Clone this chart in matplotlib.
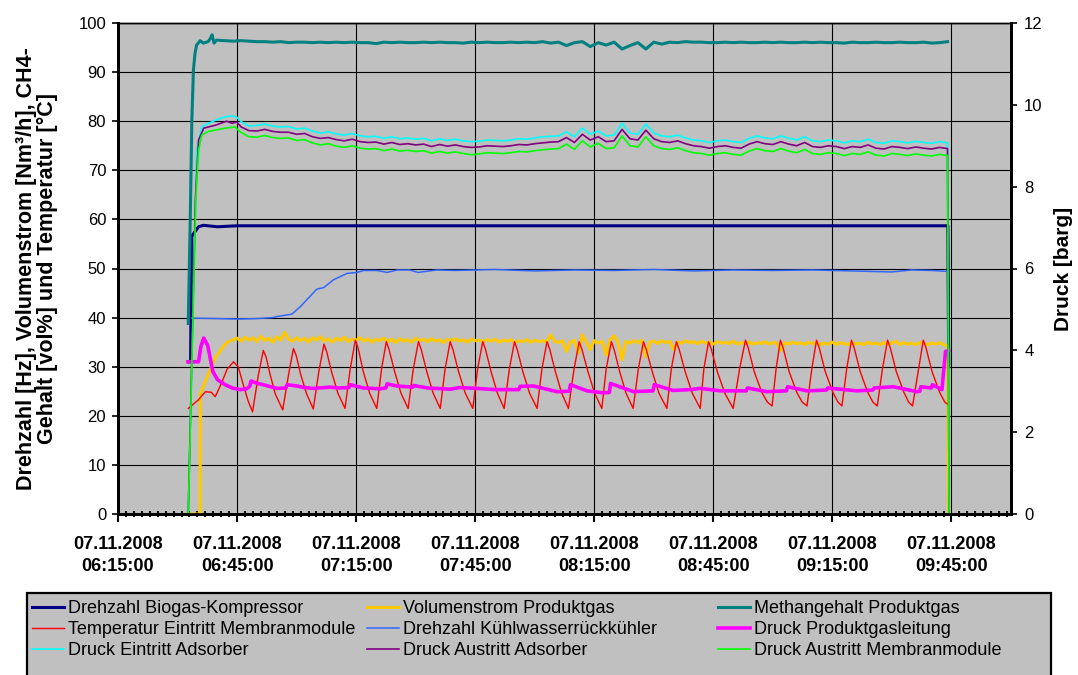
import numpy as np
import pandas as pd
import matplotlib
matplotlib.use("Agg")
import matplotlib.pyplot as plt
import matplotlib.dates as mdates
from matplotlib.lines import Line2D
from matplotlib.patches import Rectangle

plt.rcParams['font.family'] = ['Liberation Sans', 'DejaVu Sans']

# Zeitangaben in Minuten nach 06:00 Uhr am 07.11.2008
START = pd.Timestamp("2008-11-07 06:00")

# Drehzahl Biogas-Kompressor [Hz]
t_kompressor = [32.7, 33.3, 33.5, 34.4, 35.3, 36.5, 40.0, 45.0, 60.0, 90.0, 120.0, 150.0, 180.0, 210.0, 224.1, 224.3]
v_kompressor = [31.0, 31.0, 56.5, 57.5, 58.5, 58.8, 58.5, 58.7, 58.7, 58.7, 58.7, 58.7, 58.7, 58.7, 58.7, 30.0]

# Volumenstrom Produktgas [Nm3/h]: Anfahren, dann Messwerte im Minutentakt ab 06:45
t_vol_start = [32.7, 35.7, 35.75, 37.5, 39.5, 41.6, 42.8, 44.0]
v_vol_start = [0.0, 0.0, 24.5, 28.0, 31.8, 34.2, 35.1, 35.5]
t_vol_takt = np.arange(45, 225, 1)
v_vol_takt = [
    35.8, 35.2, 36.0, 35.4, 35.9, 35.1, 36.2, 35.3, 35.8, 35.0, 36.1, 35.4, 37.0, 35.6, 35.2, 35.9,
    35.3, 35.8, 35.0, 35.9, 35.4, 36.1, 35.2, 35.7, 35.0, 35.8, 35.3, 36.0, 35.1, 35.6, 35.4, 35.9, 35.2, 35.7, 35.0, 35.6,
    35.3, 35.8, 35.1, 35.6, 34.9, 35.7, 35.2, 35.5, 35.0, 35.8, 35.3, 35.6, 35.1, 35.7, 35.2, 35.5, 34.9, 35.6, 35.3, 35.7,
    35.2, 35.5, 35.0, 35.6, 35.3, 35.4, 35.1, 35.5, 35.2, 35.6, 35.0, 35.4, 35.2, 35.5, 34.9, 35.3, 35.1, 35.5, 35.0, 35.4,
    35.1, 35.3, 35.0, 36.5, 35.2, 34.9, 35.3, 33.1, 35.0, 35.4, 32.8, 36.5, 35.0, 33.5, 35.3, 34.8, 35.2, 32.4, 35.4, 36.3,
    35.0, 31.4, 35.2, 34.8, 35.3, 34.9, 35.4, 32.0, 35.0, 35.2, 34.7, 35.3, 34.9, 35.2, 33.5, 35.0, 34.8, 35.3, 34.9, 35.1,
    34.7, 35.2, 34.8, 35.0, 34.6, 35.1, 34.8, 35.0, 34.7, 35.2, 34.6, 34.9, 34.7, 35.0, 34.6, 34.9, 34.7, 35.1, 34.6, 34.9,
    34.8, 33.3, 34.9, 34.6, 35.0, 34.7, 34.9, 34.5, 35.0, 34.7, 34.9, 34.5, 34.8, 34.6, 35.0, 34.5, 34.9, 34.7, 34.5, 34.9,
    34.6, 34.8, 34.5, 35.0, 34.6, 34.8, 34.5, 34.9, 34.6, 34.8, 35.2, 34.5, 34.9, 34.6, 34.8, 34.5, 34.9, 34.7, 34.5, 34.8,
    34.6, 34.9, 34.5, 34.2,
]
t_vol_ende = [224.3]
v_vol_ende = [0.0]

# Methangehalt Produktgas [vol%]
t_ch4_start = [32.7, 33.2, 33.6, 34.0, 34.4, 34.8, 35.7, 36.5, 37.7, 38.3, 38.7, 39.2, 39.8, 42.0, 44.0]
v_ch4_start = [38.8, 60.0, 80.0, 90.4, 93.8, 95.5, 96.4, 95.9, 96.2, 96.9, 97.6, 95.9, 96.5, 96.4, 96.3]
t_takt2 = np.arange(46, 225, 2)
v_ch4_takt = [
    96.4, 96.3, 96.2, 96.2, 96.1, 96.2, 96.0, 96.1, 96.1, 96.0,
    96.1, 96.0, 96.1, 96.0, 96.1, 96.0, 96.0, 95.8, 96.1, 96.0,
    96.1, 96.0, 96.0, 96.1, 96.0, 96.1, 96.0, 96.0, 95.9, 96.1,
    96.0, 96.1, 96.0, 96.0, 96.1, 96.0, 96.1, 96.0, 96.2, 95.9,
    96.1, 95.4, 96.0, 96.2, 95.2, 96.0, 95.5, 96.1, 94.7, 95.4,
    96.0, 94.7, 96.1, 95.7, 96.1, 96.0, 96.2, 96.1, 96.1, 96.0,
    96.0, 96.1, 96.0, 96.1, 96.0, 96.0, 96.1, 96.0, 96.1, 96.0,
    96.0, 96.1, 96.0, 96.1, 96.0, 96.0, 95.9, 96.1, 96.0, 96.0,
    96.1, 96.0, 96.0, 96.1, 96.0, 96.0, 96.1, 95.9, 96.0, 96.2,
]

# Temperatur Eintritt Membranmodule [°C] (Minute, Wert)
temp_punkte = [
    (32.7, 21.5), (35.2, 23.2), (37.0, 24.9), (38.5, 24.8), (39.5, 23.9), (41.0, 26.5), (42.5, 29.5),
    (44.1, 31.0), (45.3, 30.0), (46.5, 26.5), (47.8, 23.0), (48.9, 20.8),
    (50.3, 28.0), (51.6, 33.3), (52.3, 32.0), (53.3, 28.5), (54.6, 24.5), (56.5, 21.2),
    (58.0, 28.5), (59.2, 33.7), (59.9, 32.3), (61.0, 28.5), (62.5, 24.5), (64.2, 21.4),
    (65.6, 29.0), (66.9, 34.6), (67.6, 33.0), (68.8, 29.0), (70.4, 24.6), (72.2, 21.5),
    (73.5, 29.5), (74.8, 35.4), (75.5, 33.8), (76.8, 29.0), (78.4, 24.6), (80.2, 21.5),
    (81.4, 29.5), (82.6, 35.1), (83.3, 33.5), (84.7, 29.0), (86.3, 24.6), (88.1, 21.5),
    (89.4, 29.5), (90.7, 35.1), (91.4, 33.5), (92.8, 29.0), (94.4, 24.6), (96.2, 21.5),
    (97.4, 29.5), (98.7, 35.1), (99.4, 33.5), (100.8, 29.0), (102.5, 24.6), (104.4, 21.5),
    (105.6, 29.5), (106.9, 35.1), (107.6, 33.5), (109.0, 29.0), (110.6, 24.6), (112.3, 21.5),
    (113.6, 29.5), (114.9, 35.1), (115.6, 33.5), (117.0, 29.0), (118.7, 24.6), (120.6, 21.5),
    (121.8, 29.5), (123.1, 35.1), (123.8, 33.5), (125.2, 29.0), (126.8, 24.6), (128.5, 21.5),
    (129.9, 29.5), (131.2, 35.1), (131.9, 33.5), (133.4, 29.0), (135.1, 24.6), (136.9, 21.5),
    (138.0, 29.5), (139.3, 35.1), (140.0, 33.5), (141.4, 29.0), (143.0, 24.6), (144.8, 21.5),
    (146.1, 29.5), (147.4, 35.1), (148.1, 33.5), (149.6, 29.0), (151.3, 24.6), (153.3, 21.5),
    (154.4, 29.5), (155.7, 35.1), (156.4, 33.5), (157.9, 29.0), (159.7, 24.6), (161.7, 21.5),
    (162.6, 29.5), (163.8, 35.1), (164.5, 33.5), (166.0, 29.0), (167.9, 24.6), (170.0, 21.5),
    (171.6, 29.5), (173.1, 35.4), (173.8, 33.8), (175.3, 29.0), (177.2, 24.8), (178.6, 22.8), (179.8, 22.0),
    (180.8, 29.5), (181.9, 35.4), (182.6, 33.8), (184.1, 29.0), (186.0, 24.8), (187.4, 22.8), (188.6, 22.0),
    (189.8, 29.5), (191.0, 35.4), (191.7, 33.8), (193.2, 29.0), (195.1, 24.8), (196.4, 22.8), (197.4, 22.0),
    (198.6, 29.5), (199.8, 35.4), (200.5, 33.8), (202.0, 29.0), (203.9, 24.8), (205.2, 22.8), (206.3, 22.0),
    (207.6, 29.5), (208.9, 35.4), (209.6, 33.8), (211.1, 29.0), (213.0, 24.8), (214.2, 22.8), (215.2, 22.0),
    (216.7, 29.5), (217.9, 35.4), (218.6, 33.8), (220.1, 29.0), (222.0, 24.8), (223.3, 22.8), (224.3, 22.2),
]

# Drehzahl Kühlwasserrückkühler [Hz]
t_kuehler = [33.5, 40.0, 45.0, 50.0, 54.0, 55.0, 58.8, 60.9, 65.1, 66.8, 69.3, 72.7, 75.2, 76.9, 80.3, 82.8, 85.3,
             88.5, 90.6, 95.3, 100.0, 110.0, 120.0, 130.0, 140.0, 150.0, 160.0, 170.0, 180.0, 190.0, 200.0,
             210.0, 215.0, 220.0, 224.2]
v_kuehler = [39.9, 39.8, 39.7, 39.8, 40.0, 40.2, 40.7, 42.2, 45.8, 46.1, 47.7, 49.0, 49.2, 49.6, 49.6, 49.2, 49.7,
             49.7, 49.2, 49.7, 49.6, 49.8, 49.5, 49.7, 49.6, 49.8, 49.5, 49.7, 49.6, 49.7, 49.5,
             49.3, 49.7, 49.6, 49.4]

# Druck Produktgasleitung [barg] (Minute, Wert)
druck_produkt = [
    (32.7, 3.72), (35.3, 3.72), (35.9, 4.10), (36.6, 4.30), (37.6, 4.12), (38.9, 3.48), (40.1, 3.28),
    (42.0, 3.16), (43.8, 3.08), (45.8, 3.04), (47.4, 3.06), (48.2, 3.12), (48.5, 3.25), (50.2, 3.19),
    (51.6, 3.16), (55.0, 3.07), (57.3, 3.08), (57.6, 3.16), (60.0, 3.13), (62.0, 3.09), (64.3, 3.07),
    (68.4, 3.10), (70.5, 3.08), (73.2, 3.09), (73.5, 3.16), (76.8, 3.08), (81.0, 3.06), (82.5, 3.08),
    (82.8, 3.18), (85.2, 3.13), (89.2, 3.10), (89.5, 3.14), (93.0, 3.08), (98.7, 3.05), (101.0, 3.09),
    (105.4, 3.07), (110.0, 3.04), (116.0, 3.04), (116.3, 3.12), (119.6, 3.13), (125.6, 2.99), (128.7, 3.00),
    (129.0, 3.16), (133.2, 3.01), (137.3, 2.96), (138.8, 2.97), (139.1, 3.19), (144.9, 2.99), (149.8, 3.01),
    (150.1, 3.16), (154.9, 3.02), (159.2, 3.04), (161.7, 3.07), (166.8, 3.01), (173.3, 3.01), (173.6, 3.08),
    (178.5, 2.99), (183.4, 3.01), (183.7, 3.11), (188.6, 3.01), (193.5, 3.03), (193.8, 3.08), (201.2, 3.01),
    (205.2, 3.03), (205.5, 3.08), (210.4, 3.11), (216.3, 2.99), (217.0, 3.00), (217.3, 3.11), (219.9, 3.08),
    (220.2, 3.16), (222.6, 3.04), (223.5, 3.97), (224.3, 4.00),
]

# Druck Eintritt Adsorber [barg]
t_ein_start = [32.7, 34.6, 34.8, 36.1, 39.45, 42.0, 43.7, 44.9]
v_ein_start = [0.0, 7.70, 8.89, 9.47, 9.62, 9.71, 9.73, 9.70]
v_ein_takt = [
    9.59, 9.48, 9.50, 9.53, 9.48, 9.46, 9.47, 9.41, 9.43, 9.36,
    9.31, 9.34, 9.29, 9.26, 9.30, 9.24, 9.22, 9.23, 9.18, 9.22,
    9.17, 9.19, 9.16, 9.18, 9.12, 9.17, 9.13, 9.16, 9.12, 9.10,
    9.11, 9.14, 9.13, 9.12, 9.14, 9.17, 9.16, 9.19, 9.22, 9.23,
    9.24, 9.34, 9.22, 9.43, 9.28, 9.36, 9.24, 9.26, 9.55, 9.31,
    9.28, 9.53, 9.31, 9.24, 9.22, 9.26, 9.19, 9.14, 9.12, 9.08,
    9.12, 9.14, 9.10, 9.08, 9.18, 9.24, 9.19, 9.17, 9.24, 9.18,
    9.14, 9.22, 9.12, 9.10, 9.14, 9.12, 9.07, 9.12, 9.10, 9.16,
    9.08, 9.06, 9.12, 9.10, 9.07, 9.11, 9.08, 9.06, 9.10, 9.07,
]

# Druck Austritt Adsorber [barg]
t_aus_start = [32.7, 34.5, 35.3, 36.6, 39.45, 42.4, 43.7, 44.9]
v_aus_start = [0.0, 7.70, 9.14, 9.43, 9.50, 9.60, 9.55, 9.58]
v_aus_takt = [
    9.46, 9.37, 9.36, 9.40, 9.35, 9.33, 9.33, 9.28, 9.30, 9.22,
    9.18, 9.20, 9.15, 9.12, 9.16, 9.10, 9.08, 9.09, 9.04, 9.08,
    9.03, 9.05, 9.02, 9.04, 8.98, 9.03, 8.99, 9.02, 8.98, 8.96,
    8.97, 9.00, 8.99, 8.98, 9.00, 9.03, 9.02, 9.05, 9.07, 9.09,
    9.10, 9.20, 9.08, 9.28, 9.14, 9.22, 9.10, 9.12, 9.40, 9.17,
    9.14, 9.38, 9.17, 9.10, 9.08, 9.12, 9.05, 9.00, 8.98, 8.94,
    8.98, 9.00, 8.96, 8.94, 9.04, 9.10, 9.05, 9.03, 9.10, 9.04,
    9.00, 9.08, 8.98, 8.96, 9.00, 8.98, 8.93, 8.98, 8.96, 9.02,
    8.94, 8.92, 8.98, 8.96, 8.93, 8.97, 8.94, 8.92, 8.96, 8.93,
]

# Druck Austritt Membranmodule [barg]
t_mem_start = [32.7, 34.6, 35.3, 36.1, 37.8, 42.0, 44.5, 45.3]
v_mem_start = [0.0, 7.68, 8.89, 9.26, 9.35, 9.43, 9.46, 9.38]
v_mem_takt = [
    9.33, 9.22, 9.21, 9.25, 9.20, 9.18, 9.19, 9.13, 9.15, 9.07,
    9.02, 9.05, 8.99, 8.96, 9.00, 8.94, 8.92, 8.93, 8.88, 8.92,
    8.87, 8.89, 8.86, 8.88, 8.82, 8.86, 8.82, 8.85, 8.81, 8.78,
    8.80, 8.83, 8.82, 8.81, 8.83, 8.86, 8.85, 8.88, 8.90, 8.92,
    8.93, 9.04, 8.91, 9.12, 8.97, 9.06, 8.93, 8.95, 9.24, 9.00,
    8.97, 9.22, 9.00, 8.93, 8.91, 8.95, 8.88, 8.83, 8.81, 8.77,
    8.81, 8.83, 8.79, 8.77, 8.87, 8.93, 8.88, 8.86, 8.93, 8.87,
    8.83, 8.91, 8.81, 8.79, 8.83, 8.81, 8.76, 8.81, 8.79, 8.85,
    8.77, 8.75, 8.81, 8.79, 8.76, 8.80, 8.77, 8.75, 8.79, 8.76,
]
t_druck_ende = [224.4]
v_druck_ende = [0.0]


def zeit(minuten):
    return START + pd.to_timedelta(np.asarray(minuten, dtype=float), unit="m")


fig = plt.figure(figsize=(10.78, 6.75), dpi=100)
ax = fig.add_axes([118 / 1078, 1 - 514 / 675, (1011 - 118) / 1078, (514 - 23) / 675])
ax.set_facecolor("#C0C0C0")

FS = 13
FS_Y = 12
FS_LABEL = 15.5

# Linke Achse
ax.plot(zeit(t_kompressor), v_kompressor, color="#000080", lw=2.2, zorder=3)
ax.plot(zeit(list(t_vol_start) + list(t_vol_takt) + t_vol_ende),
        v_vol_start + v_vol_takt + v_vol_ende, color="#FFC800", lw=2.2, zorder=3)
ax.plot(zeit(t_ch4_start + list(t_takt2)), v_ch4_start + v_ch4_takt, color="#008080", lw=2.2, zorder=3)
ax.plot(zeit([p[0] for p in temp_punkte]), [p[1] for p in temp_punkte], color="#FF0000", lw=1.0, zorder=4)
ax.plot(zeit(t_kuehler), v_kuehler, color="#3366FF", lw=1.1, zorder=4)

ax.set_ylim(0, 100)
ax.set_yticks(range(0, 101, 10))
ax.set_xlim(zeit([15])[0], zeit([240])[0])
ax.xaxis.set_major_locator(mdates.MinuteLocator(byminute=[15, 45]))
ax.xaxis.set_minor_locator(mdates.MinuteLocator(byminute=range(1, 60, 2)))
ax.xaxis.set_major_formatter(mdates.DateFormatter("%d.%m.%Y\n%H:%M:%S"))
ax.grid(True, which="major", color="black", lw=0.8, zorder=1)
ax.set_axisbelow(True)
ax.tick_params(axis="y", which="major", direction="out", length=4.5, width=1.2, labelsize=FS_Y, pad=4)
ax.tick_params(axis="x", which="major", direction="out", length=6, width=1.5, labelsize=FS, pad=10)
ax.tick_params(axis="x", which="minor", direction="inout", length=4, width=1.5)
for lab in ax.get_xticklabels():
    lab.set_fontweight("bold")
    lab.set_linespacing(1.38)
ax.set_ylabel("Drehzahl [Hz], Volumenstrom [Nm³/h], CH4-\nGehalt [vol%] und Temperatur [°C]",
              fontsize=FS_LABEL, fontweight="bold", linespacing=1.0)
ax.yaxis.set_label_coords(-0.067, 0.5)

# Rechte Achse (Drücke)
ax2 = ax.twinx()
ax2.plot(zeit([p[0] for p in druck_produkt]), [p[1] for p in druck_produkt], color="#FF00FF", lw=2.6)
ax2.plot(zeit(t_ein_start + list(t_takt2) + t_druck_ende), v_ein_start + v_ein_takt + v_druck_ende,
         color="#00FFFF", lw=1.2)
ax2.plot(zeit(t_aus_start + list(t_takt2) + t_druck_ende), v_aus_start + v_aus_takt + v_druck_ende,
         color="#800080", lw=1.2)
ax2.plot(zeit(t_mem_start + list(t_takt2) + t_druck_ende), v_mem_start + v_mem_takt + v_druck_ende,
         color="#00FF00", lw=1.2)
ax2.set_ylim(0, 12)
ax2.set_yticks(range(0, 13, 2))
ax2.tick_params(axis="y", direction="out", length=4.5, width=1.2, labelsize=FS_Y, pad=5)
ax2.set_ylabel("Druck [barg]", fontsize=15, fontweight="bold")
ax2.yaxis.set_label_coords(1.048, 0.5)

for a in (ax, ax2):
    for s in ("left", "right", "bottom"):
        a.spines[s].set_linewidth(2.0)
    a.spines["top"].set_linewidth(1.0)

# Legende
fig.add_artist(Rectangle((27 / 1078, -0.01), (1051 - 27) / 1078, (681 - 594) / 675 + 0.003,
                         transform=fig.transFigure, facecolor="#C0C0C0", edgecolor="black", lw=1.6))

spalten = [
    [("Drehzahl Biogas-Kompressor", "#000080", 2.2),
     ("Temperatur Eintritt Membranmodule", "#FF0000", 1.0),
     ("Druck Eintritt Adsorber", "#00FFFF", 1.2)],
    [("Volumenstrom Produktgas", "#FFC800", 2.2),
     ("Drehzahl Kühlwasserrückkühler", "#3366FF", 1.1),
     ("Druck Austritt Adsorber", "#800080", 1.2)],
    [("Methangehalt Produktgas", "#008080", 2.2),
     ("Druck Produktgasleitung", "#FF00FF", 2.6),
     ("Druck Austritt Membranmodule", "#00FF00", 1.2)],
]
spalten_x = [32 / 1078, 366.5 / 1078, 718 / 1078]
for x0, eintraege in zip(spalten_x, spalten):
    handles = [Line2D([], [], color=c, lw=w) for _, c, w in eintraege]
    fig.legend(handles, [n for n, _, _ in eintraege], loc="upper left", bbox_to_anchor=(x0, 1 - 600 / 675),
               frameon=False, fontsize=FS, borderpad=0, borderaxespad=0, handlelength=1.78,
               handletextpad=0.22, labelspacing=0.22)

fig.savefig("out.png", dpi=100)
